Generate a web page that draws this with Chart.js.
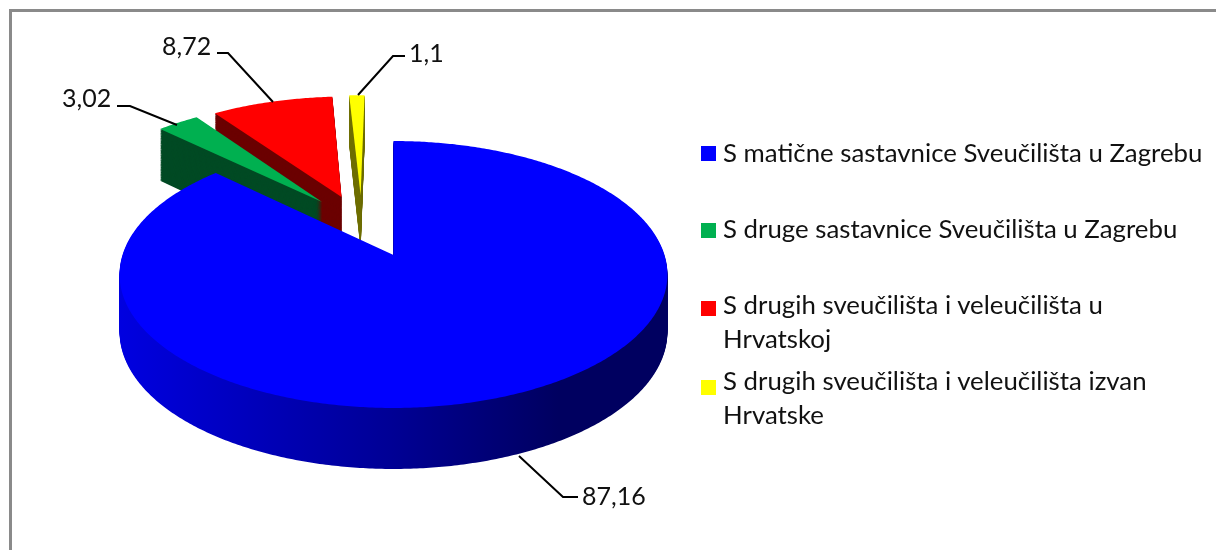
<!DOCTYPE html>
<html>
<head>
<meta charset="utf-8">
<script src="https://cdn.jsdelivr.net/npm/chart.js@4/dist/chart.umd.min.js"></script>
<style>
    body { margin: 0; background: #fff; }
    #wrap { position: relative; width: 1216px; height: 550px; overflow: hidden; }
    #frame { position: absolute; left: 9px; top: 9px; right: -5px; bottom: -5px;
             border-top: 3px solid #8a8a8a; border-left: 3px solid #8a8a8a; }
    #legend div.row { position: absolute; left: 723px; width: 490px; color: #111;
                      font: 25.8px/34px Lato, sans-serif; }
    #legend div.box { position: absolute; left: 701px; width: 15px; height: 15px; }
</style>
</head>
<body>
<div id="wrap">
    <canvas id="chart-pie" width="1216" height="550"></canvas>
    <div id="frame"></div>
    <div id="legend"></div>
</div>
<script>
const categories = [
    'S matične sastavnice Sveučilišta u Zagrebu',
    'S druge sastavnice Sveučilišta u Zagrebu',
    'S drugih sveučilišta i veleučilišta u Hrvatskoj',
    'S drugih sveučilišta i veleučilišta izvan Hrvatske'
];
const values = [87.16, 3.02, 8.72, 1.1];
const valueLabels = ['87,16', '3,02', '8,72', '1,1'];

const topColors = ['#0000ff', '#00b050', '#ff0000', '#ffff00'];
const sideColors = [null, '#004a24', '#6b0000', '#6f6f00'];

// how far each slice is pulled out, in units of the pie radius
const explodeX = [0, -0.28, -0.205, -0.13];
const explodeY = [0, -0.431, -0.4745, -0.49];

// leader lines and value text, one per slice
const leaders = [
    [[519, 456], [563, 497], [578, 497]],
    [[177, 125], [130, 106], [117, 106]],
    [[273, 102], [228, 53], [217, 53]],
    [[358, 95], [393, 56], [405, 56]]
];
const labelPos = [[582, 497], [62, 99], [162, 47], [409, 54]];

const legendTop = [135, 211, 287, 363];
const boxTop = [146, 223, 301, 380];

// the original is a perspective 3D pie
const PERSP = -0.146;
const SQUASH = 0.482;

function project(arc, ux, uy) {
    const w = 1 + PERSP * uy;
    return [arc.x + arc.outerRadius * ux / w, arc.y + arc.outerRadius * SQUASH * uy / w];
}

function depthAt(uy) {
    return 56.7 + 4.3 * uy;
}

function slicePoints(arc, i) {
    const pts = [[explodeX[i], explodeY[i]]];
    const steps = Math.max(2, Math.ceil((arc.endAngle - arc.startAngle) / 0.01));
    for (let s = 0; s <= steps; s++) {
        const a = arc.startAngle + (arc.endAngle - arc.startAngle) * s / steps;
        pts.push([Math.cos(a) + explodeX[i], Math.sin(a) + explodeY[i]]);
    }
    return pts;
}

function fillSlice(ctx, arc, pts, t, color) {
    ctx.beginPath();
    pts.forEach((p, n) => {
        const xy = project(arc, p[0], p[1]);
        const y = xy[1] + depthAt(p[1]) * t;
        if (n === 0) ctx.moveTo(xy[0], y); else ctx.lineTo(xy[0], y);
    });
    ctx.closePath();
    ctx.fillStyle = color;
    ctx.fill();
}

const pie3d = {
    id: 'pie3d',
    beforeDatasetsDraw(chart) {
        const ctx = chart.ctx;
        const arcs = chart.getDatasetMeta(0).data;

        const blueSide = ctx.createLinearGradient(120, 0, 668, 0);
        blueSide.addColorStop(0, '#0000e0');
        blueSide.addColorStop(0.5, '#000094');
        blueSide.addColorStop(0.8, '#000060');
        blueSide.addColorStop(1, '#000060');

        // back to front: yellow, red, green, then the big slice
        for (let i = arcs.length - 1; i >= 0; i--) {
            const pts = slicePoints(arcs[i], i);
            for (let d = 62; d > 0; d--) {
                fillSlice(ctx, arcs[i], pts, d / 62, sideColors[i] || blueSide);
            }
            fillSlice(ctx, arcs[i], pts, 0, topColors[i]);
        }

        // leaders + value labels
        ctx.strokeStyle = '#000';
        ctx.lineWidth = 2;
        leaders.forEach(line => {
            ctx.beginPath();
            line.forEach((p, n) => n === 0 ? ctx.moveTo(p[0], p[1]) : ctx.lineTo(p[0], p[1]));
            ctx.stroke();
        });
        ctx.fillStyle = '#111';
        ctx.font = '25px Lato, sans-serif';
        ctx.textBaseline = 'middle';
        valueLabels.forEach((txt, i) => ctx.fillText(txt, labelPos[i][0], labelPos[i][1]));

        return false;
    }
};

new Chart(document.getElementById('chart-pie').getContext('2d'), {
    type: 'pie',
    data: {
        labels: categories,
        datasets: [{ data: values, backgroundColor: topColors, borderWidth: 0, radius: 271 }]
    },
    options: {
        responsive: false,
        animation: false,
        layout: { padding: { right: 429, bottom: 40 } },
        plugins: { legend: { display: false }, tooltip: { enabled: false } }
    },
    plugins: [pie3d]
});

const legend = document.getElementById('legend');
categories.forEach((name, i) => {
    const box = document.createElement('div');
    box.className = 'box';
    box.style.top = boxTop[i] + 'px';
    box.style.background = topColors[i];
    legend.appendChild(box);

    const row = document.createElement('div');
    row.className = 'row';
    row.style.top = legendTop[i] + 'px';
    row.textContent = name;
    legend.appendChild(row);
});
</script>
</body>
</html>
